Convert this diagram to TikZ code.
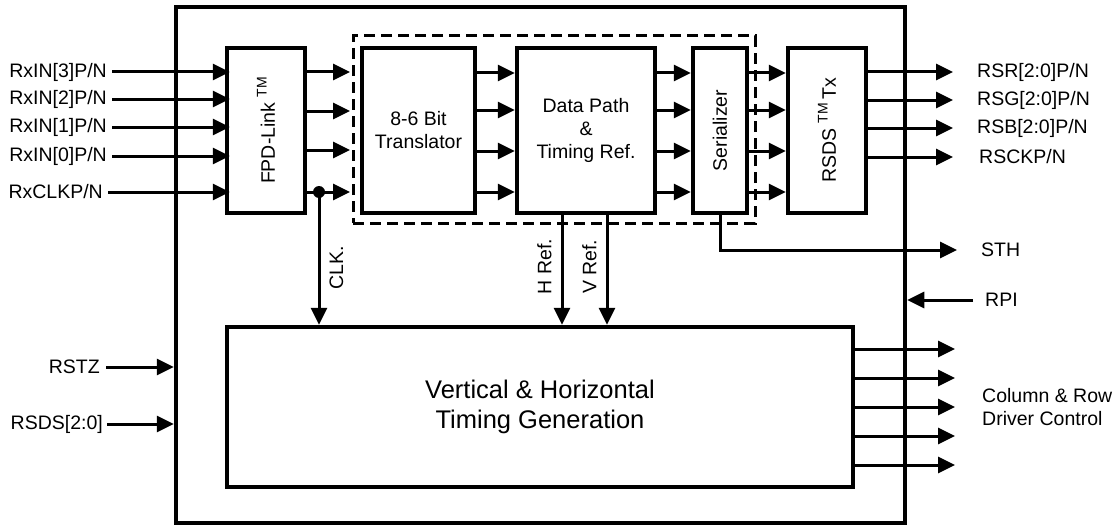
\documentclass[tikz,border=0pt]{standalone}
\usepackage{fontspec}
\setmainfont{Liberation Sans}
\usetikzlibrary{arrows.meta}
\begin{document}
\begin{tikzpicture}[x=1pt,y=-1pt]
      \tikzstyle{every node}+=[font=\fontsize{19.5}{23}\selectfont]
      \tikzstyle{blk}=[draw, line width=4.5pt, inner sep=0pt, align=center]
      \tikzstyle{sig}=[line width=3pt, -{Triangle[length=17pt,width=16pt]}]
      \tikzstyle{lbl}=[inner sep=0pt]
      \useasboundingbox (0,0) rectangle (1116,527);
      % blocks
      \node [blk, minimum width=729pt, minimum height=516pt] (chip) at (540.5,265) {};
      \node [blk, minimum width=78pt, minimum height=165pt] (fpd) at (266,130.5) {};
      \node [blk, minimum width=113pt, minimum height=165pt] (tr) at (418.5,130.5) {8-6 Bit\\Translator};
      \node [blk, minimum width=138pt, minimum height=165pt] (dp) at (586,130.5) {Data Path\\\&\\Timing Ref.};
      \node [blk, minimum width=54pt, minimum height=165pt] (ser) at (720,130.5) {};
      \node [blk, minimum width=78pt, minimum height=165pt] (rsds) at (827,130.5) {};
      \node [blk, minimum width=626pt, minimum height=160pt, font=\fontsize{25.5}{30}\selectfont] (tg) at (540,407) {Vertical \& Horizontal\\Timing Generation};
      \node [draw, line width=3pt, dash pattern=on 11pt off 6pt, minimum width=402pt, minimum height=187pt] (grp) at (554,129.5) {};
      \node [rotate=90] at (fpd) {FPD-Link \raisebox{.8ex}{\fontsize{14}{14}\selectfont TM}};
      \node [rotate=90] at (ser) {Serializer};
      \node [rotate=90] at (rsds) {RSDS \raisebox{.8ex}{\fontsize{14}{14}\selectfont TM}\,Tx};
      % inputs
      \node [lbl, anchor=east] (in3) at (107,72) {RxIN[3]P/N};
      \node [lbl, anchor=east] (in2) at (107,99) {RxIN[2]P/N};
      \node [lbl, anchor=east] (in1) at (107,127) {RxIN[1]P/N};
      \node [lbl, anchor=east] (in0) at (107,156) {RxIN[0]P/N};
      \node [lbl, anchor=east] (inclk) at (103,192) {RxCLKP/N};
      \foreach \n in {in3,in2,in1,in0,inclk}
        \draw [sig] ([xshift=5pt]\n.east) -- ([xshift=5pt]\n.east -| fpd.west);
      \node [lbl, anchor=east] (rstz) at (100,367) {RSTZ};
      \node [lbl, anchor=east] (rsel) at (103,424) {RSDS[2:0]};
      \draw [sig] ([xshift=6pt]rstz.east) -- (rstz -| chip.west);
      \draw [sig] ([xshift=4pt]rsel.east) -- (rsel -| chip.west);
      % data path chain
      \foreach \y in {72,111,150,192}
        \draw [sig] (fpd.east |- 0,\y) -- (350,\y);
      \foreach \y in {73,110,151,192} {
        \draw [sig] (tr.east |- 0,\y) -- (dp.west |- 0,\y);
        \draw [sig] (dp.east |- 0,\y) -- (ser.west |- 0,\y);
        \draw [sig] (ser.east |- 0,\y) -- (rsds.west |- 0,\y);
      }
      % clock tap
      \coordinate (tap) at (319,192);
      \fill (tap) circle (6pt);
      \draw [sig] (tap) -- (tap |- tg.north) node [pos=0.57, rotate=90, anchor=north, inner sep=9pt] {CLK.};
      \draw [sig] (dp.south -| 562,0) -- (562,0 |- tg.north) node [pos=0.47, rotate=90, anchor=south, inner sep=9pt] {H Ref.};
      \draw [sig] (dp.south -| 607,0) -- (607,0 |- tg.north) node [pos=0.47, rotate=90, anchor=south, inner sep=9pt] {V Ref.};
      % outputs
      \node [lbl, anchor=west] (rsr) at (977,72) {RSR[2:0]P/N};
      \node [lbl, anchor=west] (rsg) at (977,100) {RSG[2:0]P/N};
      \node [lbl, anchor=west] (rsb) at (977,128) {RSB[2:0]P/N};
      \node [lbl, anchor=west] (rsck) at (979,157) {RSCKP/N};
      \foreach \n in {rsr,rsg,rsb,rsck}
        \draw [sig] (rsds.east |- \n.west) -- (953,0 |- \n.west);
      \node [lbl, anchor=west] (sth) at (981,250) {STH};
      \draw [sig] (ser.south) |- (957,250);
      \node [lbl, anchor=west] (rpi) at (985,300) {RPI};
      \draw [sig] ([xshift=-12pt]rpi.west) -- (rpi -| chip.east);
      \node [lbl, anchor=west, align=left] (drv) at (982,407) {Column \& Row\\Driver Control};
      \foreach \y in {349,378,407,436,465}
        \draw [sig] (tg.east |- 0,\y) -- (955,\y);
\end{tikzpicture}
\end{document}
